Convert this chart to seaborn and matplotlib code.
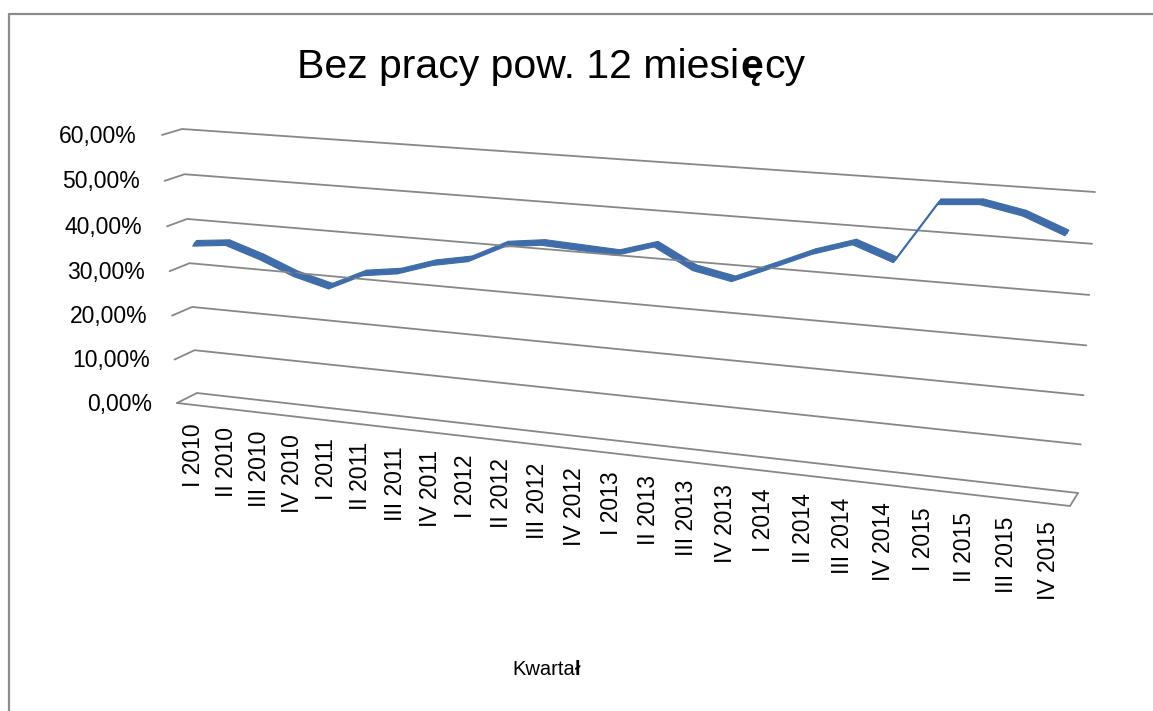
import numpy as np
import matplotlib
matplotlib.use("Agg")
import matplotlib.pyplot as plt
from matplotlib import font_manager
import seaborn as sns

# dane wykresu
kwartaly = ["I 2010", "II 2010", "III 2010", "IV 2010",
            "I 2011", "II 2011", "III 2011", "IV 2011",
            "I 2012", "II 2012", "III 2012", "IV 2012",
            "I 2013", "II 2013", "III 2013", "IV 2013",
            "I 2014", "II 2014", "III 2014", "IV 2014",
            "I 2015", "II 2015", "III 2015", "IV 2015"]
udzial = [35.7, 36.5, 34.0, 30.9, 28.9, 32.5, 33.6, 36.1,
          37.6, 41.4, 42.4, 42.0, 41.6, 44.0, 39.8, 38.2,
          41.6, 45.1, 47.7, 44.8, 56.9, 57.5, 55.9, 52.7]
poziomy = [0, 10, 20, 30, 40, 50, 60]
tytul = [("Bez pracy pow. 12 miesi", "normal"), ("ę", "bold"), ("cy", "normal")]
opis_osi = [("Kwarta", "normal"), ("ł", "bold")]

sns.set_theme(style="white")
plt.rcParams["font.family"] = ["Liberation Sans", "DejaVu Sans"]

kolor = "#3F6DAA"
siatka = "#878787"

# waska czcionka tytulu, jesli jest
rozmiar_tytulu = 29.5
rodzina_tytulu = ["Liberation Sans", "DejaVu Sans"]
for f in ["Liberation Sans Narrow", "Arial Narrow"]:
    try:
        font_manager.findfont(f, fallback_to_default=False)
        rodzina_tytulu = [f, "Liberation Sans", "DejaVu Sans"]
        rozmiar_tytulu = 33
        break
    except Exception:
        pass

fig = plt.figure(figsize=(11.53, 7.11), dpi=100)
ax = fig.add_axes([0, 0, 1, 1])


# rzut perspektywiczny (3D jak w Excelu): sciana tylna i plaszczyzna przednia
def homografia(src, dst):
    A, b = [], []
    for (u, v), (x, y) in zip(src, dst):
        A.append([u, v, 1, 0, 0, 0, -u * x, -v * x]); b.append(x)
        A.append([0, 0, 0, u, v, 1, -u * y, -v * y]); b.append(y)
    h = np.linalg.solve(np.array(A, float), np.array(b, float))
    return np.append(h, 1).reshape(3, 3)


def przeksztalc(H, u, v):
    p = H @ np.vstack([u, v, np.ones_like(u)])
    return p[0] / p[2], p[1] / p[2]


n = len(kwartaly)
vmax = poziomy[-1]
rogi = [(0, 0), (0, vmax), (n, 0), (n, vmax)]
H_tyl = homografia(rogi, [(197, 393), (182, 129), (1078, 493), (1095, 192)])
H_przod = homografia(rogi, [(177, 403), (162, 135), (1070, 506), (1087, 201)])


def rzut(u, v, w):
    u = np.asarray(u, float); v = np.asarray(v, float); w = np.asarray(w, float)
    xb, yb = przeksztalc(H_tyl, u, v)
    xf, yf = przeksztalc(H_przod, u, v)
    return (1 - w) * xb + w * xf, (1 - w) * yb + w * yf


# linie siatki (sciana boczna + tylna)
for p in poziomy:
    xs, ys = rzut([0, 0, n], [p, p, p], [1, 0, 0])
    ax.plot(xs, ys, color=siatka, lw=1.3, solid_capstyle="round")
    xl, yl = rzut([0], [p], [1])
    ax.text(xl[0] - 25, yl[0] + 1, f"{p:.2f}%".replace(".", ","),
            ha="right", va="center", fontsize=16.5, color="black")

# podloga
xs, ys = rzut([0, n, n], [0, 0, 0], [1, 1, 0])
ax.plot(xs, ys, color=siatka, lw=1.3)

# seria - wstega (gorna powierzchnia linii 3D)
u = np.arange(n) + 0.5
v = np.array(udzial)
xc, yc = rzut(u, v, 0.5)
dx, dy = -2.0, 2.8
for i in range(n - 1):
    ax.fill([xc[i] - dx, xc[i + 1] - dx, xc[i + 1] + dx, xc[i] + dx],
            [yc[i] - dy, yc[i + 1] - dy, yc[i + 1] + dy, yc[i] + dy],
            facecolor=kolor, edgecolor=kolor, lw=0.8)
sns.lineplot(x=xc, y=yc, ax=ax, color=kolor, lw=1.5, sort=False)

# etykiety kategorii
xk, yk = rzut(np.arange(n) + 0.5, np.zeros(n), np.ones(n))
for x, y, k in zip(xk, yk, kwartaly):
    ax.text(x, y + 18, k, rotation=90, ha="center", va="top",
            fontsize=16.5, color="black")

ax.set_xlim(0, 1153)
ax.set_ylim(711, 0)
ax.axis("off")

# ramka obszaru wykresu
ax.plot([9, 9, 1153], [711, 14, 14], color="#8C8C8C", lw=1.6)

r = fig.canvas.get_renderer()


def tekst_czesci(czesci, xc, y, rodzina, rozmiar, odstep):
    arts = [ax.text(0, y, s, fontweight=fw, ha="left", va="baseline",
                    fontsize=rozmiar, family=rodzina, color="black")
            for s, fw in czesci]
    szer = [a.get_window_extent(r).width for a in arts]
    x = xc - sum(szer) / 2
    for a, s in zip(arts, szer):
        a.set_x(x)
        x += s + odstep


tekst_czesci(tytul, 550, 78, rodzina_tytulu, rozmiar_tytulu, 1)
tekst_czesci(opis_osi, 547, 675, ["Liberation Sans", "DejaVu Sans"], 14.5, -1)

fig.savefig("out.png", dpi=100)
